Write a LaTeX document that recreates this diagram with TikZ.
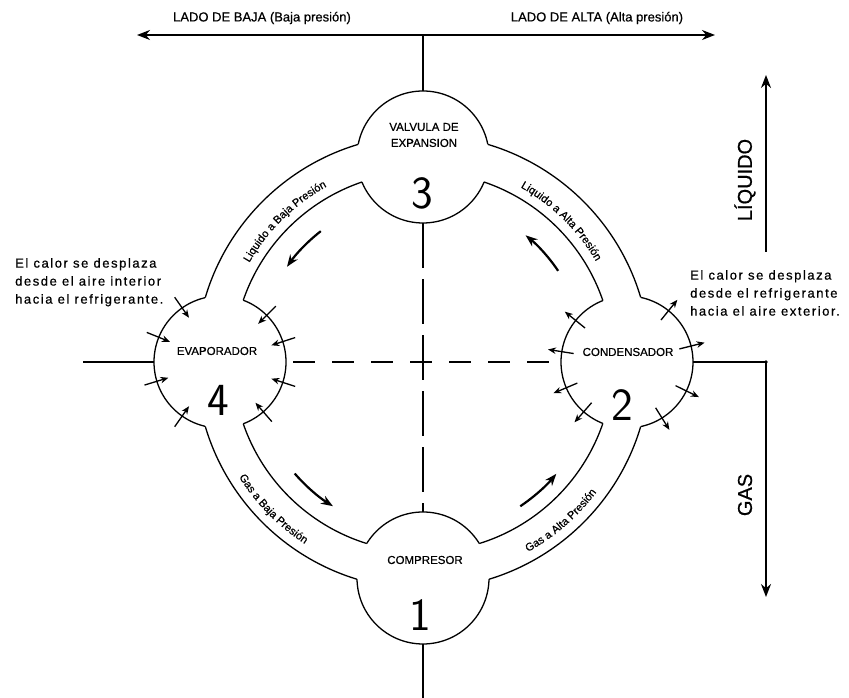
\documentclass[tikz,border=0pt]{standalone}
\usepackage{fontspec}
\setmainfont{Liberation Sans}
\newfontfamily\medfont[FakeBold=0.6]{Liberation Sans}
\newfontfamily\widefont[LetterSpace=12,FakeBold=0.6]{Liberation Sans}
\usetikzlibrary{arrows.meta,decorations.text}
\newcommand\curvefont{\medfont\fontsize{11}{11}\selectfont}
\begin{document}
\begin{tikzpicture}[x=1pt,y=1pt,
  outline/.style={line width=1.3pt},
  axisline/.style={line width=1.2pt},
  bigarrow/.style={line width=1.6pt},
  flowarrow/.style={line width=2.2pt,-{Stealth[length=12pt,width=9pt]}},
  heatarrow/.style={line width=1.3pt,-{Stealth[length=8pt,width=6.5pt]}},
  unit/.style={circle,minimum size=132pt,inner sep=0pt},
  lbl/.style={font=\medfont\fontsize{11.5}{16}\selectfont,align=center,inner sep=0pt},
  digit/.style={font=\sffamily\fontsize{46}{46}\selectfont,inner sep=0pt},
  toplbl/.style={font=\medfont\fontsize{13}{13}\selectfont,inner sep=0pt},
  sidelbl/.style={font=\medfont\fontsize{20}{20}\selectfont,inner sep=0pt,rotate=90},
  heattxt/.style={font=\widefont\fontsize{13}{18}\selectfont,align=left,inner sep=0pt},
  curvelbl/.style={decorate,decoration={text along path,text align=center,text={#1}}}
]
\useasboundingbox (0,0) rectangle (849,698);
\fill[white] (0,0) rectangle (849,698);

% centres
\coordinate (C) at (423,336);
\node[unit] (valve) at (423,541) {};
\node[unit] (comp)  at (423,120) {};
\node[unit] (evap)  at (220,336) {};
\node[unit] (cond)  at (627,336) {};

% pipe ring, cut by the four units
\begin{scope}[even odd rule]
  \clip (-20,-20) rectangle (870,720)
    (valve.center) circle[radius=66pt] (comp.center) circle[radius=66pt]
    (evap.center) circle[radius=66pt] (cond.center) circle[radius=66pt];
  \draw[outline] (C) circle[radius=227pt];
  \draw[outline] (C) circle[radius=190pt];
\end{scope}
\begin{scope}[even odd rule]
  \clip (-20,-20) rectangle (870,720)
    (C) circle[radius=227pt] (C) circle[radius=190pt];
  \draw[outline] (valve.center) circle[radius=66pt];
  \draw[outline] (comp.center) circle[radius=66pt];
  \draw[outline] (evap.center) circle[radius=66pt];
  \draw[outline] (cond.center) circle[radius=66pt];
\end{scope}

% top double arrow and axes
\coordinate (topL) at (137,663);
\coordinate (topR) at (715,663);
\coordinate (topM) at (423,663);
\draw[bigarrow,{Stealth[length=13pt,width=10pt]}-{Stealth[length=13pt,width=10pt]}] (topL) -- (topR);
\draw[axisline] (topM) -- (valve.north);
\draw[axisline,dash pattern=on 45pt off 11pt] (valve.south) -- (comp.north);
\coordinate (bot) at (423,0);
\draw[axisline] (comp.south) -- (bot);
\coordinate (leftEnd) at (83,336);
\draw[axisline] (leftEnd) -- (evap.west);
\draw[axisline,dash pattern=on 22pt off 17pt,dash phase=32pt] (evap.east) -- (cond.west);
\coordinate (J) at (766,336);
\draw[axisline] (cond.east) -- (J);
\fill (J) circle[radius=1.8pt];
\coordinate (gasEnd) at (766,101);
\draw[bigarrow,-{Stealth[length=13pt,width=10pt]}] (J) -- (gasEnd);
\coordinate (liqStart) at (766,446);
\coordinate (liqEnd) at (766,623);
\draw[bigarrow,-{Stealth[length=13pt,width=10pt]}] (liqStart) -- (liqEnd);

% labels
\node[toplbl] (lowside) at (262,680) {LADO DE BAJA (Baja presión)};
\node[toplbl] (highside) at (597,680) {LADO DE ALTA (Alta presión)};
\node[sidelbl] (liq) at (745,518) {LÍQUIDO};
\node[sidelbl] (gas) at (745,203) {GAS};

\node[lbl] (valveTxt) at (424,563) {VALVULA DE\\EXPANSION};
\node[digit] (n3) at (422,505) {3};
\node[lbl] (compTxt) at (425,138) {COMPRESOR};
\node[digit] (n1) at (420,83) {1};
\node[lbl] (evapTxt) at (217,347) {EVAPORADOR};
\node[digit] (n4) at (218,298) {4};
\node[lbl] (condTxt) at (628,346) {CONDENSADOR};
\node[digit] (n2) at (622,293) {2};

\node[heattxt,anchor=north west] (heatL) at (15,440) {El calor se desplaza\\desde el aire interior\\hacia el refrigerante.};
\node[heattxt,anchor=north west] (heatR) at (690,428) {El calor se desplaza\\desde el refrigerante\\hacia el aire exterior.};

% flow arrows
\draw[flowarrow] ([shift={(128:166pt)}]C) arc[start angle=128,end angle=145,radius=166pt];
\draw[flowarrow] ([shift={(34:163pt)}]C) arc[start angle=34,end angle=51,radius=163pt];
\draw[flowarrow] ([shift={(221:170pt)}]C) arc[start angle=221,end angle=238,radius=170pt];
\draw[flowarrow] ([shift={(304:174pt)}]C) arc[start angle=304,end angle=320,radius=174pt];

% heat arrows: into evaporator
\foreach \a in {125,158,197,235,45,18,-18,-49}
  \draw[heatarrow] ([shift={(\a:79pt)}]evap.center) -- ([shift={(\a:54pt)}]evap.center);
% heat arrows: out of condenser
\foreach \a in {141,171,203,229,51,14,-26,-58}
  \draw[heatarrow] ([shift={(\a:54pt)}]cond.center) -- ([shift={(\a:80pt)}]cond.center);

% curved pipe labels
\path[curvelbl={|\curvefont|Liquido a Baja Presión}] ([shift={(155:200pt)}]C) arc[start angle=155,end angle=114,radius=200pt];
\path[curvelbl={|\curvefont|Liquido a Alta Presión}] ([shift={(66:200pt)}]C) arc[start angle=66,end angle=25,radius=200pt];
\path[curvelbl={|\curvefont|Gas a Baja Presión}] ([shift={(204:217pt)}]C) arc[start angle=204,end angle=245,radius=217pt];
\path[curvelbl={|\curvefont|Gas a Alta Presión}] ([shift={(-69:217pt)}]C) arc[start angle=-69,end angle=-29,radius=217pt];
\end{tikzpicture}
\end{document}
